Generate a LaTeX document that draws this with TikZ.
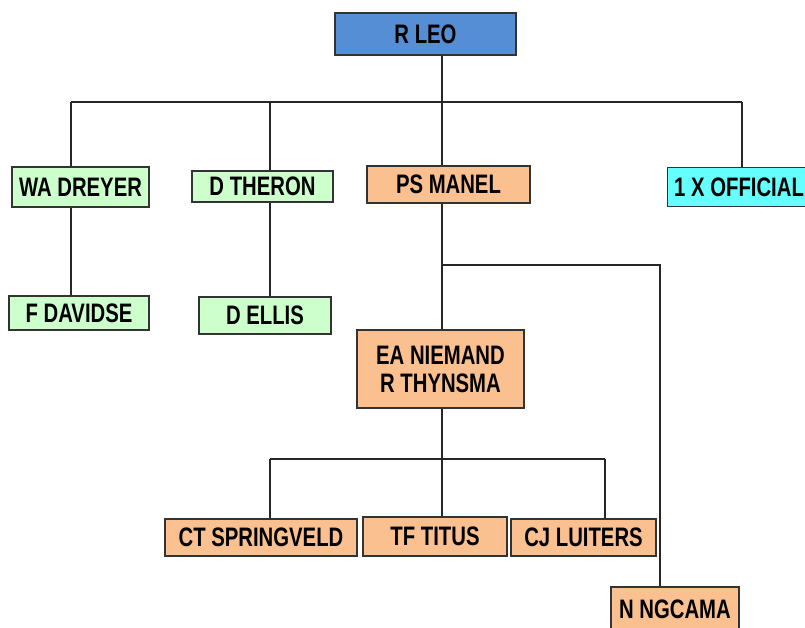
\documentclass[tikz,border=0pt]{standalone}
\usepackage{fontspec}
\newfontfamily\lab{Liberation Sans}[FakeStretch=0.76]
\definecolor{cblue}{HTML}{558ED5}
\definecolor{cgreen}{HTML}{CCFFCC}
\definecolor{corange}{HTML}{FAC090}
\definecolor{ccyan}{HTML}{66FFFF}
\definecolor{cedge}{HTML}{333333}
\tikzset{
  box/.style={draw=cedge, line width=0.8pt, inner sep=0pt, align=center,
    font=\lab\bfseries\fontsize{19}{20}\selectfont},
  wire/.style={line width=0.9pt, draw=black!85},
}
\newcommand\bx[8]{% name, x1, x2, y1, y2, fill, text
  \node[box, fill=#6, minimum width={(#3-#2)*0.025cm}, minimum height={(#5-#4)*0.025cm}] (#1) at ({(#2+#3)/2},{(#4+#5)/2}) {#7#8};}
\begin{document}
\begin{tikzpicture}[x=0.025cm,y=-0.025cm]
\useasboundingbox (0,0) rectangle (805,627);
\clip (0,0) rectangle (805,627);
\fill[white] (0,0) rectangle (805,627);
% nodes
\bx{leo}{335}{516}{13}{55}{cblue}{R LEO}{}
\bx{dreyer}{12}{149}{167}{207}{cgreen}{WA DREYER}{}
\bx{theron}{192}{333}{171}{202}{cgreen}{D THERON}{}
\bx{manel}{367}{530}{166}{203}{corange}{PS MANEL}{}
\node[box, fill=ccyan, minimum width={143*0.025cm}, minimum height={39*0.025cm}, anchor=north west] (official) at (667,167) {1 X OFFICIAL};
\bx{davidse}{9}{149}{296}{330}{cgreen}{F DAVIDSE}{}
\bx{ellis}{199}{331}{297}{334}{cgreen}{D ELLIS}{}
\bx{niemand}{357}{524}{330}{408}{corange}{EA NIEMAND\\R THYNSMA}{}
\bx{springveld}{165}{357}{519}{556}{corange}{CT SPRINGVELD}{}
\bx{titus}{363}{507}{517}{556}{corange}{TF TITUS}{}
\bx{luiters}{511}{656}{519}{556}{corange}{CJ LUITERS}{}
\bx{ngcama}{611}{739}{587}{631}{corange}{N NGCAMA}{}
% junctions
\coordinate (j1) at (442,102);
\coordinate (j1l) at (71,102);
\coordinate (j1r) at (742,102);
\coordinate (j2) at (442,265);
\coordinate (j2r) at (660,265);
\coordinate (j3) at (442,459);
\coordinate (j3l) at (270,459);
\coordinate (j3r) at (605,459);
% connectors
\draw[wire] (442,0 |- leo.south) -- (j1);
\draw[wire] (j1l) -- (j1r);
\draw[wire] (j1l) -- (j1l |- dreyer.north);
\draw[wire] (270,102) -- (270,0 |- theron.north);
\draw[wire] (j1) -- (j1 |- manel.north);
\draw[wire] (j1r) -- (j1r |- official.north);
\draw[wire] (71,0 |- dreyer.south) -- (71,0 |- davidse.north);
\draw[wire] (270,0 |- theron.south) -- (270,0 |- ellis.north);
\draw[wire] (442,0 |- manel.south) -- (442,0 |- niemand.north);
\draw[wire] (j2) -- (j2r) -- (j2r |- ngcama.north);
\draw[wire] (442,0 |- niemand.south) -- (j3);
\draw[wire] (j3l) -- (j3r);
\draw[wire] (j3l) -- (j3l |- springveld.north);
\draw[wire] (j3) -- (j3 |- titus.north);
\draw[wire] (j3r) -- (j3r |- luiters.north);
\end{tikzpicture}
\end{document}
